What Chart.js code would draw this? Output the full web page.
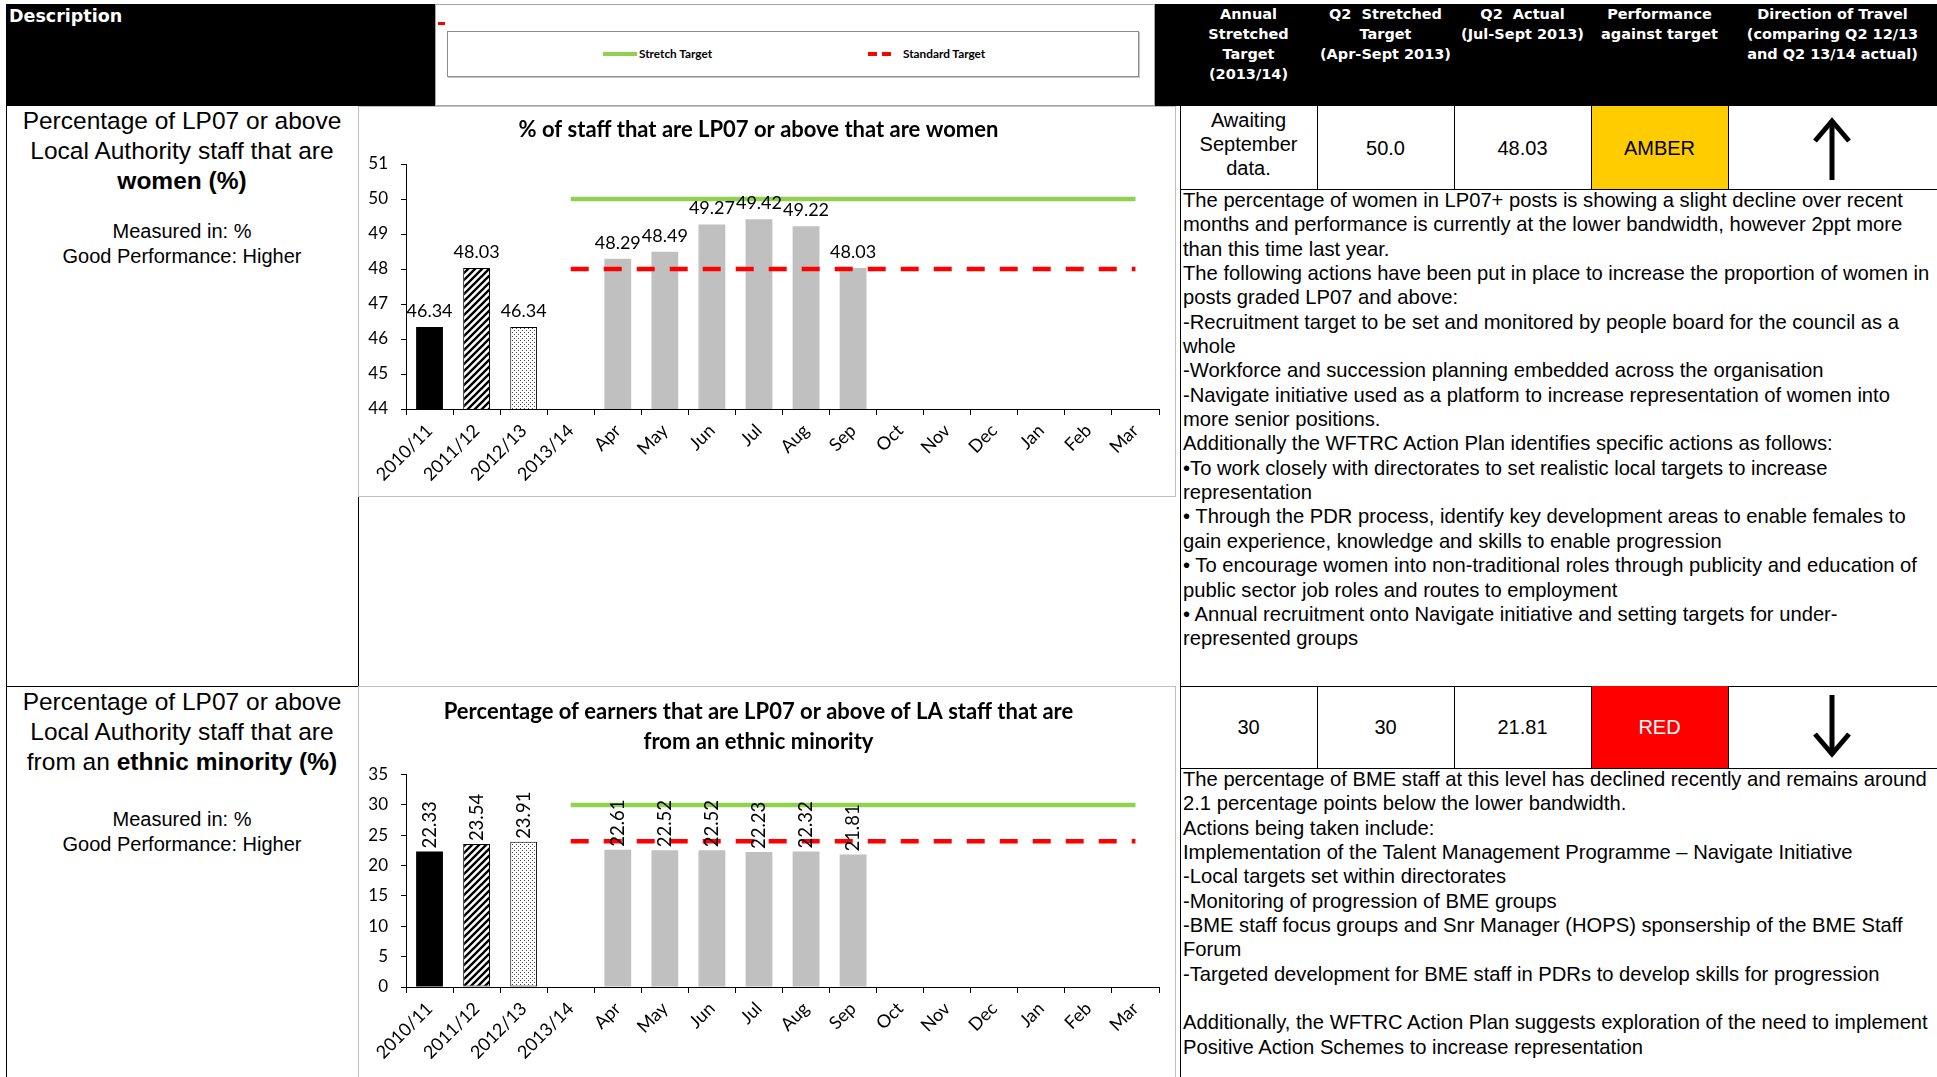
<!DOCTYPE html>
<html>
<head>
<meta charset="utf-8">
<title>LP07+ workforce indicators</title>
<script src="https://cdn.jsdelivr.net/npm/chart.js@4.4.1/dist/chart.umd.min.js"></script>
<style>
  html, body { margin: 0; padding: 0; background: #fff; }
  body { width: 1937px; height: 1077px; position: relative; overflow: hidden;
         font-family: "Liberation Sans", Arial, sans-serif; color: #000; }
  .abs { position: absolute; }
  .black { background: #000; }
  .hdr { color: #fff; font-family: "DejaVu Sans", Verdana, sans-serif; font-weight: bold;
         font-size: 14.5px; line-height: 20px; text-align: center; }
  .vline { position: absolute; width: 1px; background: #000; }
  .hline { position: absolute; height: 1px; background: #000; }
  .desc { position: absolute; left: 6px; width: 352px; text-align: center; }
  .desc .name { font-size: 24.5px; line-height: 30px; }
  .desc .meta { font-size: 20px; line-height: 25px; }
  .cell { position: absolute; display: flex; align-items: center; justify-content: center;
          text-align: center; font-size: 20px; line-height: 24px; box-sizing: border-box; }
  .notes { position: absolute; left: 1183px; font-size: 20.2px; line-height: 24.35px; white-space: nowrap; }
  .frame { position: absolute; box-sizing: border-box; border: 1px solid #bfbfbf; background: #fff; }
  canvas { position: absolute; }
  .legend-text { position: absolute; font-family: Lato, "Liberation Sans", sans-serif; font-weight: bold;
                 font-size: 11.8px; line-height: 14px; white-space: nowrap; }
</style>
</head>
<body>

<!-- header band -->
<div class="abs black" style="left:6px;top:4px;width:429px;height:102px;"></div>
<div class="abs hdr" style="left:9px;top:5px;font-size:17.5px;line-height:22px;text-align:left;">Description</div>

<div class="abs" style="left:435px;top:4px;width:720px;height:102px;box-sizing:border-box;border:1px solid #a6a6a6;background:#fff;"></div>
<div class="abs" style="left:438px;top:22px;width:7px;height:3px;background:#ff0000;"></div>
<div class="abs" style="left:447px;top:31px;width:692px;height:46px;box-sizing:border-box;border:1px solid #8c8c8c;box-shadow:1px 1px 0 #c8c8c8;"></div>
<div class="abs" style="left:603px;top:52px;width:34px;height:4px;background:#92D050;"></div>
<div class="legend-text" style="left:639px;top:47px;">Stretch Target</div>
<div class="abs" style="left:868px;top:52px;width:9px;height:4px;background:#ff0000;"></div>
<div class="abs" style="left:882px;top:52px;width:9px;height:4px;background:#ff0000;"></div>
<div class="legend-text" style="left:903px;top:47px;">Standard Target</div>

<div class="abs black" style="left:1155px;top:4px;width:782px;height:102px;"></div>
<div class="abs hdr" style="left:1180px;top:4px;width:137px;">Annual<br>Stretched<br>Target<br>(2013/14)</div>
<div class="abs hdr" style="left:1317px;top:4px;width:137px;">Q2&nbsp; Stretched<br>Target<br>(Apr-Sept 2013)</div>
<div class="abs hdr" style="left:1454px;top:4px;width:137px;">Q2&nbsp; Actual<br>(Jul-Sept 2013)</div>
<div class="abs hdr" style="left:1591px;top:4px;width:137px;">Performance<br>against target</div>
<div class="abs hdr" style="left:1728px;top:4px;width:209px;">Direction of Travel<br>(comparing Q2 12/13<br>and Q2 13/14 actual)</div>

<!-- description column -->
<div class="vline" style="left:6px;top:106px;height:971px;"></div>
<div class="vline" style="left:358px;top:106px;height:971px;"></div>
<div class="hline" style="left:6px;top:686px;width:352px;"></div>

<div class="desc" style="top:106px;">
  <div class="name">Percentage of LP07 or above<br>Local Authority staff that are<br><b>women (%)</b></div>
</div>
<div class="desc" style="top:219px;">
  <div class="meta">Measured in: %<br>Good Performance: Higher</div>
</div>
<div class="desc" style="top:687px;">
  <div class="name">Percentage of LP07 or above<br>Local Authority staff that are<br>from an <b>ethnic minority (%)</b></div>
</div>
<div class="desc" style="top:807px;">
  <div class="meta">Measured in: %<br>Good Performance: Higher</div>
</div>

<!-- chart frames -->
<div class="frame" style="left:358px;top:106px;width:818px;height:391px;"></div>
<div class="frame" style="left:358px;top:686px;width:818px;height:400px;"></div>
<canvas id="womenChart" width="818" height="391" style="left:358px;top:106px;"></canvas>
<canvas id="ethnicChart" width="818" height="391" style="left:358px;top:686px;"></canvas>

<!-- scorecard: women -->
<div class="vline" style="left:1180px;top:106px;height:971px;"></div>
<div class="cell" style="left:1591px;top:106px;width:137px;height:83px;background:#FFCC00;">AMBER</div>
<div class="cell" style="left:1180px;top:106px;width:137px;height:83px;padding-bottom:7px;">Awaiting<br>September<br>data.</div>
<div class="cell" style="left:1317px;top:106px;width:137px;height:83px;">50.0</div>
<div class="cell" style="left:1454px;top:106px;width:137px;height:83px;">48.03</div>
<div class="vline" style="left:1317px;top:106px;height:83px;"></div>
<div class="vline" style="left:1454px;top:106px;height:83px;"></div>
<div class="vline" style="left:1591px;top:106px;height:83px;"></div>
<div class="vline" style="left:1728px;top:106px;height:83px;"></div>
<div class="hline" style="left:1180px;top:189px;width:757px;"></div>
<svg class="abs" style="left:1812px;top:114px;" width="40" height="68">
  <path d="M20 6 V66" stroke="#000" stroke-width="5" fill="none"/>
  <path d="M3 27 L20 7 L37 27" stroke="#000" stroke-width="5" fill="none" stroke-linejoin="miter"/>
</svg>

<div class="notes" style="top:188px;">
  <div>The percentage of women in LP07+ posts is showing a slight decline over recent</div>
  <div>months and performance is currently at the lower bandwidth, however 2ppt more</div>
  <div>than this time last year.</div>
  <div>The following actions have been put in place to increase the proportion of women in</div>
  <div>posts graded LP07 and above:</div>
  <div>-Recruitment target to be set and monitored by people board for the council as a</div>
  <div>whole</div>
  <div>-Workforce and succession planning embedded across the organisation</div>
  <div>-Navigate initiative used as a platform to increase representation of women into</div>
  <div>more senior positions.</div>
  <div>Additionally the WFTRC Action Plan identifies specific actions as follows:</div>
  <div>•To work closely with directorates to set realistic local targets to increase</div>
  <div>representation</div>
  <div>• Through the PDR process, identify key development areas to enable females to</div>
  <div>gain experience, knowledge and skills to enable progression</div>
  <div>• To encourage women into non-traditional roles through publicity and education of</div>
  <div>public sector job roles and routes to employment</div>
  <div>• Annual recruitment onto Navigate initiative and setting targets for under-</div>
  <div>represented groups</div>
</div>

<!-- scorecard: ethnic minority -->
<div class="hline" style="left:1180px;top:686px;width:757px;"></div>
<div class="cell" style="left:1591px;top:686px;width:137px;height:82px;background:#FF0000;color:#fff;">RED</div>
<div class="cell" style="left:1180px;top:686px;width:137px;height:82px;">30</div>
<div class="cell" style="left:1317px;top:686px;width:137px;height:82px;">30</div>
<div class="cell" style="left:1454px;top:686px;width:137px;height:82px;">21.81</div>
<div class="vline" style="left:1317px;top:686px;height:82px;"></div>
<div class="vline" style="left:1454px;top:686px;height:82px;"></div>
<div class="vline" style="left:1591px;top:686px;height:82px;"></div>
<div class="vline" style="left:1728px;top:686px;height:82px;"></div>
<div class="hline" style="left:1180px;top:768px;width:757px;"></div>
<svg class="abs" style="left:1812px;top:695px;" width="40" height="66">
  <path d="M20 0 V60" stroke="#000" stroke-width="5" fill="none"/>
  <path d="M3 39 L20 59 L37 39" stroke="#000" stroke-width="5" fill="none" stroke-linejoin="miter"/>
</svg>

<div class="notes" style="top:767px;">
  <div>The percentage of BME staff at this level has declined recently and remains around</div>
  <div>2.1 percentage points below the lower bandwidth.</div>
  <div>Actions being taken include:</div>
  <div>Implementation of the Talent Management Programme – Navigate Initiative</div>
  <div>-Local targets set within directorates</div>
  <div>-Monitoring of progression of BME groups</div>
  <div>-BME staff focus groups and Snr Manager (HOPS) sponsership of the BME Staff</div>
  <div>Forum</div>
  <div>-Targeted development for BME staff in PDRs to develop skills for progression</div>
  <div>&nbsp;</div>
  <div>Additionally, the WFTRC Action Plan suggests exploration of the need to implement</div>
  <div>Positive Action Schemes to increase representation</div>
</div>

<script>
// Categories: three annual outturns, the 2013/14 year marker, then the monthly figures.
const categories = ['2010/11', '2011/12', '2012/13', '2013/14', 'Apr', 'May', 'Jun', 'Jul', 'Aug', 'Sep', 'Oct', 'Nov', 'Dec', 'Jan', 'Feb', 'Mar'];

// Women in LP07+ posts (%)
const womenValues   = [46.34, 48.03, 46.34, null, 48.29, 48.49, 49.27, 49.42, 49.22, 48.03, null, null, null, null, null, null];
const womenStretch  = [null, null, null, 50, 50, 50, 50, 50, 50, 50, 50, 50, 50, 50, 50, 50];
const womenStandard = [null, null, null, 48, 48, 48, 48, 48, 48, 48, 48, 48, 48, 48, 48, 48];
const womenTicks    = [44, 45, 46, 47, 48, 49, 50, 51];

// Ethnic minority staff in LP07+ posts (%)
const ethnicValues   = [22.33, 23.54, 23.91, null, 22.61, 22.52, 22.52, 22.23, 22.32, 21.81, null, null, null, null, null, null];
const ethnicStretch  = [null, null, null, 30, 30, 30, 30, 30, 30, 30, 30, 30, 30, 30, 30, 30];
const ethnicStandard = [null, null, null, 24, 24, 24, 24, 24, 24, 24, 24, 24, 24, 24, 24, 24];
const ethnicTicks    = [0, 5, 10, 15, 20, 25, 30, 35];

const CHART_FONT = 'Lato, "Liberation Sans", sans-serif';

// Fill patterns for the annual bars
function makeHatch() {
  const c = document.createElement('canvas');
  c.width = 7; c.height = 7;
  const g = c.getContext('2d');
  g.fillStyle = '#fff'; g.fillRect(0, 0, 7, 7);
  g.strokeStyle = '#000'; g.lineWidth = 2.4;
  g.beginPath();
  g.moveTo(-1, 8); g.lineTo(8, -1);
  g.moveTo(-4, 4); g.lineTo(4, -4);
  g.moveTo(3, 11); g.lineTo(11, 3);
  g.stroke();
  return g.createPattern(c, 'repeat');
}
function makeDots() {
  const c = document.createElement('canvas');
  c.width = 4; c.height = 4;
  const g = c.getContext('2d');
  g.fillStyle = '#fff'; g.fillRect(0, 0, 4, 4);
  g.fillStyle = '#444';
  g.fillRect(0, 0, 1, 1); g.fillRect(2, 2, 1, 1);
  return g.createPattern(c, 'repeat');
}
const hatch = makeHatch();
const dots = makeDots();

function barFill(i) {
  if (i === 0) return '#000';
  if (i === 1) return hatch;
  if (i === 2) return dots;
  return '#C0C0C0';
}
function barBorder(i) { return (i === 1 || i === 2) ? 1 : 0; }

// Value labels on top of each bar
const valueLabels = {
  id: 'valueLabels',
  afterDatasetsDraw(chart, args, opts) {
    const ctx = chart.ctx;
    chart.data.datasets.forEach((ds, di) => {
      if (ds.type !== 'bar') return;
      const meta = chart.getDatasetMeta(di);
      meta.data.forEach((bar, i) => {
        const v = ds.data[i];
        if (v === null || v === undefined) return;
        const txt = v.toFixed(2);
        ctx.save();
        ctx.fillStyle = '#000';
        ctx.font = opts.font;
        if (opts.vertical) {
          ctx.translate(bar.x, bar.y - opts.gap);
          ctx.rotate(-Math.PI / 2);
          ctx.textAlign = 'left';
          ctx.textBaseline = 'middle';
          ctx.fillText(txt, 0, 0);
        } else {
          ctx.textAlign = 'center';
          ctx.textBaseline = 'bottom';
          ctx.fillText(txt, bar.x, bar.y - opts.gap);
        }
        ctx.restore();
      });
    });
  }
};

function buildChart(canvasId, spec) {
  const ticks = spec.ticks;
  return new Chart(document.getElementById(canvasId), {
    type: 'bar',
    data: {
      labels: categories,
      datasets: [
        { type: 'line', label: 'Stretch Target', data: spec.stretch, borderColor: '#92D050',
          borderWidth: 4.5, pointRadius: 0, fill: false, order: 1 },
        { type: 'line', label: 'Standard Target', data: spec.standard, borderColor: '#FF0000',
          borderWidth: 4.5, borderDash: [18, 15], pointRadius: 0, fill: false, order: 1 },
        { type: 'bar', label: 'Actual', data: spec.values,
          backgroundColor: categories.map((c, i) => barFill(i)),
          borderColor: '#000', borderWidth: categories.map((c, i) => barBorder(i)),
          borderSkipped: false, barPercentage: 0.57, categoryPercentage: 1, order: 2 }
      ]
    },
    options: {
      responsive: false,
      animation: false,
      devicePixelRatio: 1,
      layout: { padding: { left: 0, right: 17, top: 0, bottom: 0 } },
      plugins: {
        legend: { display: false },
        tooltip: { enabled: false },
        title: {
          display: true, text: spec.title, color: '#000',
          font: { family: CHART_FONT, weight: 'bold', size: 22, lineHeight: spec.titleLineHeight },
          padding: spec.titlePadding
        },
        valueLabels: { font: spec.labelFont, vertical: spec.verticalLabels, gap: spec.labelGap }
      },
      scales: {
        x: {
          grid: { display: true, drawOnChartArea: false, drawTicks: true, tickLength: 6, color: '#000', offset: true },
          border: { display: true, color: '#000', width: 1 },
          ticks: { color: '#000', font: { family: CHART_FONT, size: 18 }, minRotation: 45, maxRotation: 45,
                   autoSkip: false, padding: 5 },
          afterFit(scale) { scale.height = spec.xHeight; }
        },
        y: {
          min: ticks[0], max: ticks[ticks.length - 1],
          afterBuildTicks(scale) { scale.ticks = ticks.map(v => ({ value: v })); },
          grid: { display: true, drawOnChartArea: false, drawTicks: true, tickLength: 5, color: '#000' },
          border: { display: true, color: '#000', width: 1 },
          ticks: { color: '#000', font: { family: CHART_FONT, size: 17 }, padding: 13 },
          afterFit(scale) { scale.width = 48; }
        }
      }
    },
    plugins: [valueLabels]
  });
}

buildChart('womenChart', {
  title: '% of staff that are LP07 or above that are women',
  titleLineHeight: 1.2,
  titlePadding: { top: 11, bottom: 20.6 },
  values: womenValues, stretch: womenStretch, standard: womenStandard, ticks: womenTicks,
  labelFont: '18px ' + CHART_FONT, verticalLabels: false, labelGap: 7,
  xHeight: 88
});

buildChart('ethnicChart', {
  title: ['Percentage of earners that are LP07 or above of LA staff that are', 'from an ethnic minority'],
  titleLineHeight: 1.36,
  titlePadding: { top: 11, bottom: 17.7 },
  values: ethnicValues, stretch: ethnicStretch, standard: ethnicStandard, ticks: ethnicTicks,
  labelFont: '18.5px ' + CHART_FONT, verticalLabels: true, labelGap: 3,
  xHeight: 90
});
</script>
</body>
</html>
